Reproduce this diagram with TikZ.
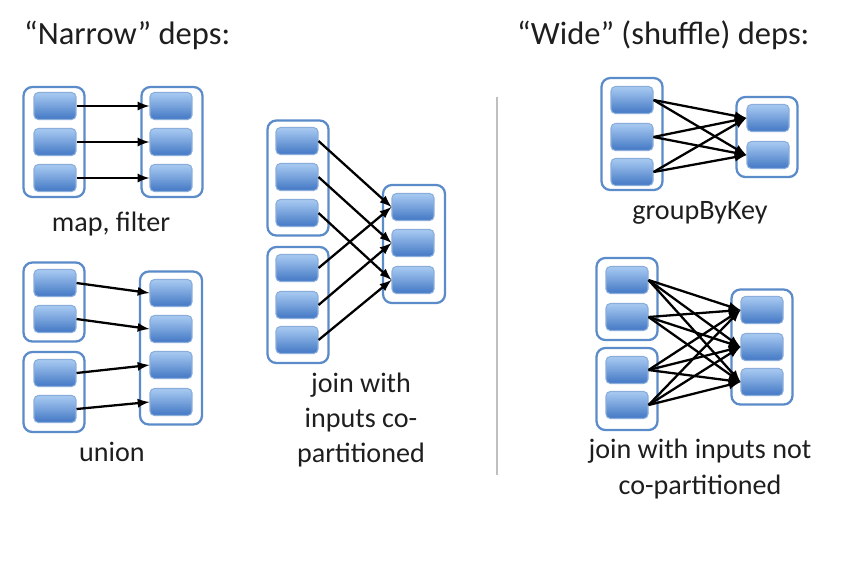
\documentclass[tikz,border=0pt]{standalone}
\usepackage{fontspec}
\setmainfont{Carlito}
\usepackage{xcolor}
\usepackage{tikz}
\usetikzlibrary{shapes}
\definecolor{rddblue}{HTML}{5B8BC9}
\definecolor{blockedge}{HTML}{8AAEDC}
\definecolor{blockhi}{HTML}{A9CBF2}
\definecolor{blocklo}{HTML}{4277C4}
\definecolor{inktext}{HTML}{1E1E1E}
\tikzset{ rdd/.style = {rectangle, rounded corners=5pt, draw=rddblue, line width=1.3pt, fill=white, inner sep=0pt, minimum width=1.22cm} }
\tikzset{ part/.style = {rectangle, rounded corners=2.5pt, draw=blockedge, line width=0.6pt, top color=blockhi, bottom color=blocklo, minimum width=0.84cm, minimum height=0.54cm, inner sep=0pt} }
\tikzset{ dep/.style = {->, >=latex, line width=1.3pt} }
\tikzset{ caption/.style = {align=center, text=inktext, font=\fontsize{16}{20}\selectfont} }

\begin{document}
\begin{tikzpicture}[x=0.02cm, y=-0.02cm]
        \useasboundingbox (0,0) rectangle (849,579);
        % titles
        \node[anchor=west, text=inktext, font=\fontsize{18.5}{22}\selectfont] (narrow) at (18,35) {“Narrow” deps:};
        \node[anchor=west, text=inktext, font=\fontsize{18.5}{22}\selectfont] (wide) at (511,35) {“Wide” (shuffle) deps:};
        \draw[gray!50, line width=1.2pt] (497,97) -- (497,475);

        % map, filter
        \node[rdd, minimum height=2.2cm] (mapL) at (54,142) {};
        \node[rdd, minimum height=2.2cm] (mapR) at (172,142) {};
        \node[part] (mapL1) at (55,106) {};
        \node[part] (mapL2) at (55,142) {};
        \node[part] (mapL3) at (55,178) {};
        \node[part] (mapR1) at (171,106) {};
        \node[part] (mapR2) at (171,142) {};
        \node[part] (mapR3) at (171,178) {};
        \draw[dep] (mapL1) -- (mapR1);
        \draw[dep] (mapL2) -- (mapR2);
        \draw[dep] (mapL3) -- (mapR3);
        \node[caption] (mapT) at (111,224) {map, filter};

        % union
        \node[rdd, minimum height=1.58cm] (unA) at (54,302) {};
        \node[rdd, minimum height=1.6cm] (unB) at (54,392) {};
        \node[rdd, minimum height=3.06cm, minimum width=1.24cm] (unR) at (171,348) {};
        \node[part] (unA1) at (55,283) {};
        \node[part] (unA2) at (55,319) {};
        \node[part] (unB1) at (55,373) {};
        \node[part] (unB2) at (55,409) {};
        \node[part] (unR1) at (171,293) {};
        \node[part] (unR2) at (171,329) {};
        \node[part] (unR3) at (171,365) {};
        \node[part] (unR4) at (171,402) {};
        \draw[dep] (unA1.east) -- (unR1.west);
        \draw[dep] (unA2.east) -- (unR2.west);
        \draw[dep] (unB1.east) -- (unR3.west);
        \draw[dep] (unB2.east) -- (unR4.west);
        \node[caption] (unT) at (112,452) {union};

        % join, co-partitioned
        \node[rdd, minimum height=2.3cm] (jcA) at (298,178) {};
        \node[rdd, minimum height=2.32cm] (jcB) at (298,305) {};
        \node[rdd, minimum height=2.36cm, minimum width=1.24cm] (jcR) at (414,244) {};
        \node[part] (jcA1) at (297,141) {};
        \node[part] (jcA2) at (297,177) {};
        \node[part] (jcA3) at (297,213) {};
        \node[part] (jcB1) at (297,268) {};
        \node[part] (jcB2) at (297,305) {};
        \node[part] (jcB3) at (297,340) {};
        \node[part] (jcR1) at (413,207) {};
        \node[part] (jcR2) at (413,243) {};
        \node[part] (jcR3) at (413,280) {};
        \draw[dep] (jcA1.east) -- (jcR1.west);
        \draw[dep] (jcA2.east) -- (jcR2.west);
        \draw[dep] (jcA3.east) -- (jcR3.west);
        \draw[dep] (jcB1.east) -- (jcR1.west);
        \draw[dep] (jcB2.east) -- (jcR2.west);
        \draw[dep] (jcB3.east) -- (jcR3.west);
        \node[caption] (jcT) at (361,420) {join with\\inputs co-\\partitioned};

        % groupByKey
        \node[rdd, minimum height=2.24cm] (gbA) at (632,134) {};
        \node[rdd, minimum height=1.6cm] (gbR) at (767,137) {};
        \node[part] (gbA1) at (632,100) {};
        \node[part] (gbA2) at (632,137) {};
        \node[part] (gbA3) at (632,172) {};
        \node[part] (gbR1) at (768,118) {};
        \node[part] (gbR2) at (768,155) {};
        \foreach \s in {gbA1,gbA2,gbA3}
            \foreach \t in {gbR1,gbR2}
                \draw[dep] (\s.east) -- (\t.west);
        \node[caption] (gbT) at (700,213) {groupByKey};

        % join, not co-partitioned
        \node[rdd, minimum height=1.64cm] (jnA) at (627,299) {};
        \node[rdd, minimum height=1.64cm] (jnB) at (627,389) {};
        \node[rdd, minimum height=2.3cm] (jnR) at (762,347) {};
        \node[part] (jnA1) at (627,280) {};
        \node[part] (jnA2) at (627,317) {};
        \node[part] (jnB1) at (627,370) {};
        \node[part] (jnB2) at (627,405) {};
        \node[part] (jnR1) at (762,310) {};
        \node[part] (jnR2) at (762,347) {};
        \node[part] (jnR3) at (762,382) {};
        \foreach \s in {jnA1,jnA2,jnB1,jnB2}
            \foreach \t in {jnR1,jnR2,jnR3}
                \draw[dep] (\s.east) -- (\t.west);
        \node[caption] (jnT) at (700,469) {join with inputs not\\co-partitioned};
\end{tikzpicture}
\end{document}
